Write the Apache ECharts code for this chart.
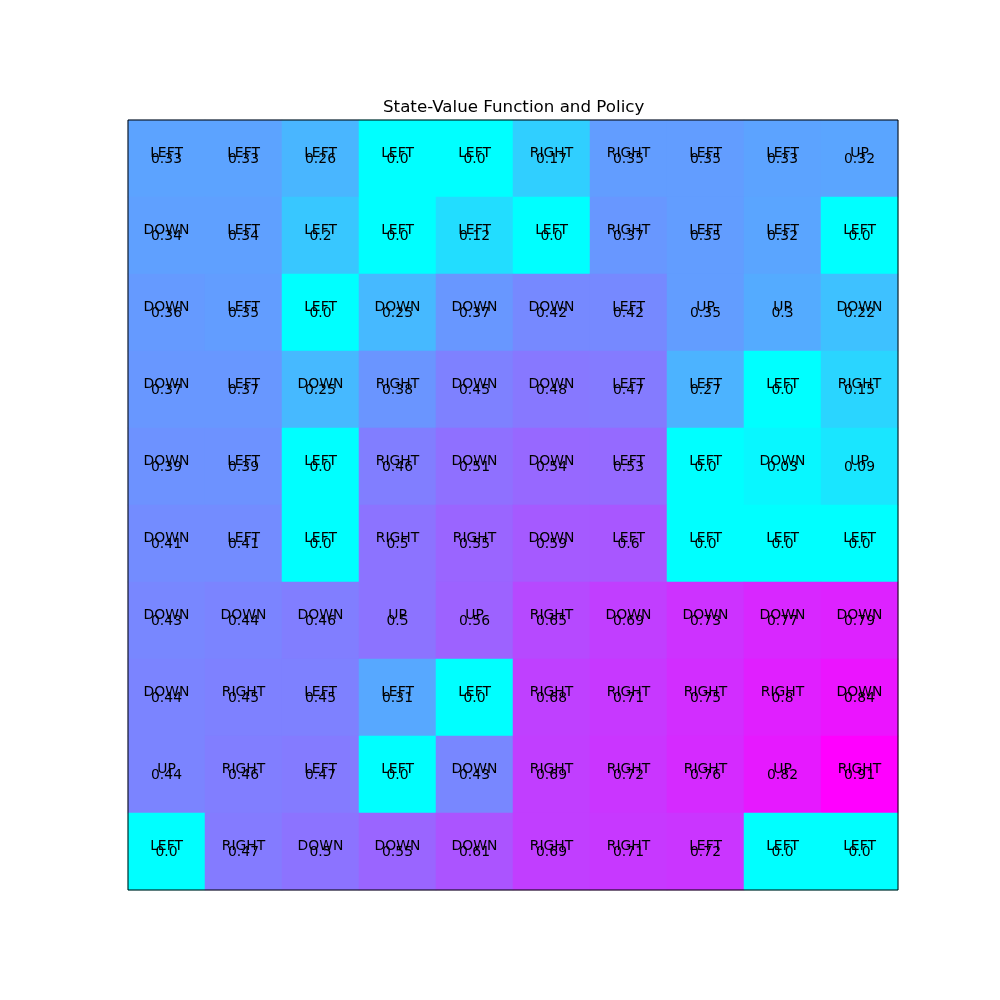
<!DOCTYPE html>
<html>
<head>
<meta charset="utf-8">
<script src="https://cdn.jsdelivr.net/npm/echarts@6/dist/echarts.min.js"></script>
<style>
  html, body { margin: 0; padding: 0; background: #fff; }
  #chart { width: 1000px; height: 1000px; }
</style>
</head>
<body>
<div id="chart"></div>
<script>
// grid rows, top to bottom
const cols = ['0', '1', '2', '3', '4', '5', '6', '7', '8', '9']
const rows = ['0', '1', '2', '3', '4', '5', '6', '7', '8', '9']

const stateValues = [
  [0.33, 0.33, 0.26, 0.0, 0.0, 0.17, 0.35, 0.35, 0.33, 0.32],
  [0.34, 0.34, 0.2, 0.0, 0.12, 0.0, 0.37, 0.35, 0.32, 0.0],
  [0.36, 0.35, 0.0, 0.25, 0.37, 0.42, 0.42, 0.35, 0.3, 0.22],
  [0.37, 0.37, 0.25, 0.38, 0.45, 0.48, 0.47, 0.27, 0.0, 0.15],
  [0.39, 0.39, 0.0, 0.46, 0.51, 0.54, 0.53, 0.0, 0.03, 0.09],
  [0.41, 0.41, 0.0, 0.5, 0.55, 0.59, 0.6, 0.0, 0.0, 0.0],
  [0.43, 0.44, 0.46, 0.5, 0.56, 0.65, 0.69, 0.73, 0.77, 0.79],
  [0.44, 0.45, 0.45, 0.31, 0.0, 0.68, 0.71, 0.75, 0.8, 0.84],
  [0.44, 0.46, 0.47, 0.0, 0.43, 0.69, 0.72, 0.76, 0.82, 0.91],
  [0.0, 0.47, 0.5, 0.55, 0.61, 0.69, 0.71, 0.72, 0.0, 0.0]
]

const policy = [
  ['LEFT', 'LEFT', 'LEFT', 'LEFT', 'LEFT', 'RIGHT', 'RIGHT', 'LEFT', 'LEFT', 'UP'],
  ['DOWN', 'LEFT', 'LEFT', 'LEFT', 'LEFT', 'LEFT', 'RIGHT', 'LEFT', 'LEFT', 'LEFT'],
  ['DOWN', 'LEFT', 'LEFT', 'DOWN', 'DOWN', 'DOWN', 'LEFT', 'UP', 'UP', 'DOWN'],
  ['DOWN', 'LEFT', 'DOWN', 'RIGHT', 'DOWN', 'DOWN', 'LEFT', 'LEFT', 'LEFT', 'RIGHT'],
  ['DOWN', 'LEFT', 'LEFT', 'RIGHT', 'DOWN', 'DOWN', 'LEFT', 'LEFT', 'DOWN', 'UP'],
  ['DOWN', 'LEFT', 'LEFT', 'RIGHT', 'RIGHT', 'DOWN', 'LEFT', 'LEFT', 'LEFT', 'LEFT'],
  ['DOWN', 'DOWN', 'DOWN', 'UP', 'UP', 'RIGHT', 'DOWN', 'DOWN', 'DOWN', 'DOWN'],
  ['DOWN', 'RIGHT', 'LEFT', 'LEFT', 'LEFT', 'RIGHT', 'RIGHT', 'RIGHT', 'RIGHT', 'DOWN'],
  ['UP', 'RIGHT', 'LEFT', 'LEFT', 'DOWN', 'RIGHT', 'RIGHT', 'RIGHT', 'UP', 'RIGHT'],
  ['LEFT', 'RIGHT', 'DOWN', 'DOWN', 'DOWN', 'RIGHT', 'RIGHT', 'LEFT', 'LEFT', 'LEFT']
]

const fmt = (v) => (v === 0 ? '0.0' : String(v))

const cells = []
for (let r = 0; r < rows.length; r++) {
  for (let c = 0; c < cols.length; c++) {
    cells.push([c, r, stateValues[r][c], policy[r][c]])
  }
}

const chart = echarts.init(document.getElementById('chart'))
chart.setOption({
  animation: false,
  textStyle: { fontFamily: 'DejaVu Sans' },
  title: {
    text: 'State-Value Function and Policy',
    left: 378,
    top: 94,
    textStyle: { fontFamily: 'DejaVu Sans', fontSize: 16.7, fontWeight: 'normal', color: '#000' }
  },
  grid: {
    left: 128,
    top: 120,
    width: 770,
    height: 770,
    show: true,
    z: 10,
    borderColor: '#000',
    borderWidth: 1,
    backgroundColor: 'transparent'
  },
  xAxis: {
    type: 'category',
    data: cols,
    show: false
  },
  yAxis: {
    type: 'category',
    data: rows,
    inverse: true,
    show: false
  },
  visualMap: {
    show: false,
    min: 0,
    max: 0.91,
    dimension: 2,
    seriesIndex: 0,
    inRange: { color: ['#00ffff', '#ff00ff'] }
  },
  series: [
    {
      type: 'heatmap',
      data: cells,
      label: {
        show: true,
        offset: [0, -5],
        color: '#000',
        textBorderWidth: 0,
        fontFamily: 'DejaVu Sans',
        fontSize: 13.9,
        formatter: (p) => p.data[3]
      }
    },
    {
      type: 'scatter',
      data: cells,
      symbolSize: 1,
      itemStyle: { color: 'rgba(0,0,0,0)', opacity: 1 },
      label: {
        show: true,
        position: 'inside',
        offset: [0, 1],
        color: '#000',
        opacity: 1,
        textBorderWidth: 0,
        fontFamily: 'DejaVu Sans',
        fontSize: 13.9,
        formatter: (p) => fmt(p.data[2])
      },
      z: 5
    }
  ]
})
</script>
</body>
</html>
